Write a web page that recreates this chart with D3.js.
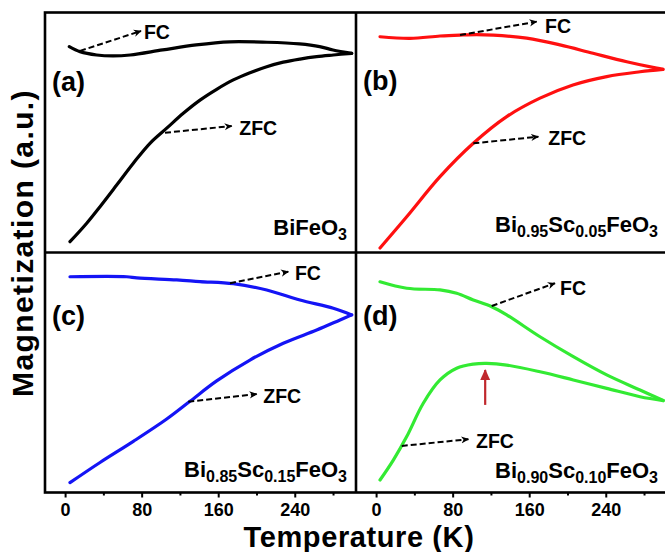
<!DOCTYPE html>
<html><head><meta charset="utf-8">
<script src="https://cdn.jsdelivr.net/npm/d3@7/dist/d3.min.js"></script>
<style>body{margin:0;background:#fff}svg{display:block}</style>
</head><body>
<svg id="chart" width="665" height="552"></svg>
<script>
// ---------- data ----------
const xMajorTicks = [0, 80, 160, 240];
const xMinorTicks = [40, 120, 200, 280];
const panelLabels = ["(a)", "(b)", "(c)", "(d)"];
const seriesColors = ["#000000", "#ff1010", "#1414f5", "#33ea33"];
// formula parts: [text, isSubscript]
const formulaA = [["BiFeO", 0], ["3", 1]];
const formulaB = [["Bi", 0], ["0.95", 1], ["Sc", 0], ["0.05", 1], ["FeO", 0], ["3", 1]];
const formulaC = [["Bi", 0], ["0.85", 1], ["Sc", 0], ["0.15", 1], ["FeO", 0], ["3", 1]];
const formulaD = [["Bi", 0], ["0.90", 1], ["Sc", 0], ["0.10", 1], ["FeO", 0], ["3", 1]];

// (a) BiFeO3
const aFcT  = [4.4, 15.6, 33, 50, 68, 102, 137, 172, 211, 245, 266, 280, 299.5];
const aFcM  = [.858, .837, .823, .819, .823, .844, .865, .878, .876, .869, .858, .844, .830];
const aZfcT = [5.1, 22.6, 36.5, 53.9, 71.3, 88.7, 106.2, 123.5, 141, 158.4, 175.8, 193.2, 210.7, 228, 245.5, 262.9, 280.3, 299.5];
const aZfcM = [.045, .122, .191, .281, .372, .455, .518, .580, .635, .680, .719, .749, .774, .793, .806, .816, .823, .830];
// (b) Bi0.95Sc0.05FeO3
const bFcT  = [4.1, 35.4, 66.8, 87.7, 105, 122.5, 157.4, 192.2, 226.7, 261.9, 293.2, 299.8];
const bFcM  = [.899, .892, .902, .906, .908, .906, .893, .865, .830, .795, .768, .763];
const bZfcT = [4.1, 32, 66.8, 101.6, 136.5, 171.3, 205.7, 241, 275.8, 299.8];
const bZfcM = [.019, .149, .316, .455, .566, .643, .698, .733, .753, .763];
// (c) Bi0.85Sc0.15FeO3
const cFcT  = [5.1, 64.4, 75, 116.6, 141, 175.8, 210.7, 245.5, 280.3, 299.5];
const cFcM  = [.899, .899, .894, .886, .879, .870, .844, .802, .768, .740];
const cZfcT = [5.1, 36.5, 71.3, 106.2, 130.5, 158.4, 193.2, 228, 262.9, 287.3, 299.5];
const cZfcM = [.041, .125, .213, .306, .380, .465, .552, .622, .677, .719, .740];
// (d) Bi0.90Sc0.10FeO3
const dFcT  = [4.1, 32, 66.8, 84.2, 101.6, 120.8, 136.5, 171.3, 206.1, 241, 275.8, 300.1];
const dFcM  = [.878, .851, .844, .830, .802, .774, .740, .649, .566, .490, .427, .383];
const dZfcT = [4.1, 18, 32, 49.3, 66.8, 84.2, 101.6, 115.6, 136.5, 171.3, 206.1, 241, 275.8, 300.1];
const dZfcM = [.052, .135, .233, .372, .469, .518, .535, .538, .531, .503, .469, .434, .399, .383];

// annotation arrows [T0, M0, T1, M1] and label anchors [T, M]
const fcArrows   = [[15.6, .84, 79.3, .923], [87.7, .906, 167.8, .962], [172.3, .872, 233.2, .92], [120.8, .777, 186.9, .872]];
const fcLabels   = [[82.4, .919], [176.5, .941], [240.2, .913], [192.2, .853]];
const zfcArrows  = [[104.4, .499, 174.1, .527], [101.6, .455, 169.5, .4825], [128.7, .378, 200.2, .41], [26.8, .194, 96.4, .222]];
const zfcLabels  = [[182, .5175], [179.9, .476], [207.1, .402], [104.4, .215]];
const peakArrow  = [114, .365, 114, .51]; // panel (d)

// ---------- layout ----------
const W = 665, H = 552;
const padL = 45, midX = 356, padR = 667;
const padT = 12.5, midY = 252.5, padB = 492.5;
const FONT = "'Liberation Sans', Arial, Helvetica, sans-serif";

const svg = d3.select("#chart");
svg.append("rect").attr("width", W).attr("height", H).attr("fill", "#fff");

const defs = svg.append("defs");
defs.append("marker").attr("id", "arrowBlack")
  .attr("viewBox", "0 0 10 10").attr("refX", 9).attr("refY", 5)
  .attr("markerWidth", 8).attr("markerHeight", 8).attr("markerUnits", "userSpaceOnUse")
  .attr("orient", "auto")
  .append("path").attr("d", "M0,0.5 L10,5 L0,9.5 L3,5 Z").attr("fill", "#000");
defs.append("marker").attr("id", "arrowRed")
  .attr("viewBox", "0 0 10 10").attr("refX", 9).attr("refY", 5)
  .attr("markerWidth", 11).attr("markerHeight", 11).attr("markerUnits", "userSpaceOnUse")
  .attr("orient", "auto")
  .append("path").attr("d", "M0,0.5 L10,5 L0,9.5 Z").attr("fill", "#c0282d");

const panels = [
  {x0: padL, x1: midX, y0: padT, y1: midY, fc: [aFcT, aFcM], zfc: [aZfcT, aZfcM], formula: formulaA, fy: 235},
  {x0: midX, x1: padR, y0: padT, y1: midY, fc: [bFcT, bFcM], zfc: [bZfcT, bZfcM], formula: formulaB, fy: 232},
  {x0: padL, x1: midX, y0: midY, y1: padB, fc: [cFcT, cFcM], zfc: [cZfcT, cZfcM], formula: formulaC, fy: 477},
  {x0: midX, x1: padR, y0: midY, y1: padB, fc: [dFcT, dFcM], zfc: [dZfcT, dZfcM], formula: formulaD, fy: 478}
];
const labelBaselines = [91, 90, 325, 325];

panels.forEach((p, i) => {
  const x = d3.scaleLinear().domain([-21, 304]).range([p.x0, p.x1]);
  const y = d3.scaleLinear().domain([0, 1]).range([p.y1, p.y0]);
  const g = svg.append("g");
  const line = d3.line().x(d => x(d[0])).y(d => y(d[1])).curve(d3.curveCatmullRom.alpha(0.5));
  [p.fc, p.zfc].forEach(s => {
    const pts = s[0].map((t, k) => [t, s[1][k]]);
    g.append("path").datum(pts).attr("d", line)
      .attr("fill", "none").attr("stroke", seriesColors[i]).attr("stroke-width", 3.2)
      .attr("stroke-linejoin", "round").attr("stroke-linecap", "round");
  });
  // dashed annotation arrows
  [[fcArrows[i], fcLabels[i], "FC"], [zfcArrows[i], zfcLabels[i], "ZFC"]].forEach(([a, l, txt]) => {
    g.append("line").attr("x1", x(a[0])).attr("y1", y(a[1])).attr("x2", x(a[2])).attr("y2", y(a[3]))
      .attr("stroke", "#000").attr("stroke-width", 2).attr("stroke-dasharray", "6,3")
      .attr("marker-end", "url(#arrowBlack)");
    g.append("text").attr("x", x(l[0])).attr("y", y(l[1])).attr("dy", "0.35em")
      .attr("font-family", FONT).attr("font-weight", "bold").attr("font-size", 19.5).text(txt);
  });
  if (i === 3) {
    g.append("line").attr("x1", x(peakArrow[0])).attr("y1", y(peakArrow[1]))
      .attr("x2", x(peakArrow[2])).attr("y2", y(peakArrow[3]))
      .attr("stroke", "#c0282d").attr("stroke-width", 2.2).attr("marker-end", "url(#arrowRed)");
  }
  // panel label
  svg.append("text").attr("x", p.x0 + 7).attr("y", labelBaselines[i])
    .attr("font-family", FONT).attr("font-weight", "bold").attr("font-size", 27).text(panelLabels[i]);
  // formula
  const ft = svg.append("text").attr("x", p.x1 - 9).attr("y", p.fy).attr("text-anchor", "end")
    .attr("font-family", FONT).attr("font-weight", "bold").attr("font-size", 22);
  let shifted = false;
  p.formula.forEach(([s, sub]) => {
    const ts = ft.append("tspan").text(s);
    if (sub && !shifted) { ts.attr("dy", 5).attr("font-size", 16); shifted = true; }
    else if (sub) { ts.attr("font-size", 16); }
    else if (!sub && shifted) { ts.attr("dy", -5); shifted = false; }
  });
  // bottom axes
  if (p.y1 === padB) {
    const axMin = svg.append("g").attr("transform", `translate(0,${padB})`)
      .call(d3.axisBottom(x).tickValues(xMinorTicks).tickSize(3).tickFormat(""));
    const axMaj = svg.append("g").attr("transform", `translate(0,${padB})`)
      .call(d3.axisBottom(x).tickValues(xMajorTicks).tickSize(5).tickPadding(6));
    [axMin, axMaj].forEach(a => {
      a.select(".domain").remove();
      a.selectAll(".tick line").attr("stroke", "#000").attr("stroke-width", 2);
    });
    axMaj.selectAll(".tick text").attr("font-family", FONT).attr("font-weight", "bold")
      .attr("font-size", 18).attr("fill", "#000").attr("dy", "0").attr("y", 23);
  }
});

// frame
const frame = svg.append("g").attr("stroke", "#000").attr("stroke-width", 2.6).attr("fill", "none");
frame.append("rect").attr("x", padL).attr("y", padT).attr("width", padR - padL).attr("height", padB - padT);
frame.append("line").attr("x1", midX).attr("x2", midX).attr("y1", padT).attr("y2", padB);
frame.append("line").attr("x1", padL).attr("x2", padR).attr("y1", midY).attr("y2", midY);

// axis titles
svg.append("text").attr("x", 359).attr("y", 547).attr("text-anchor", "middle")
  .attr("font-family", FONT).attr("font-weight", "bold").attr("font-size", 29)
  .attr("letter-spacing", 0.6).text("Temperature (K)");
svg.append("text").attr("transform", "translate(33,243) rotate(-90)").attr("text-anchor", "middle")
  .attr("font-family", FONT).attr("font-weight", "bold").attr("font-size", 30)
  .attr("letter-spacing", 1.4).text("Magnetization (a.u.)");
</script>
</body></html>
